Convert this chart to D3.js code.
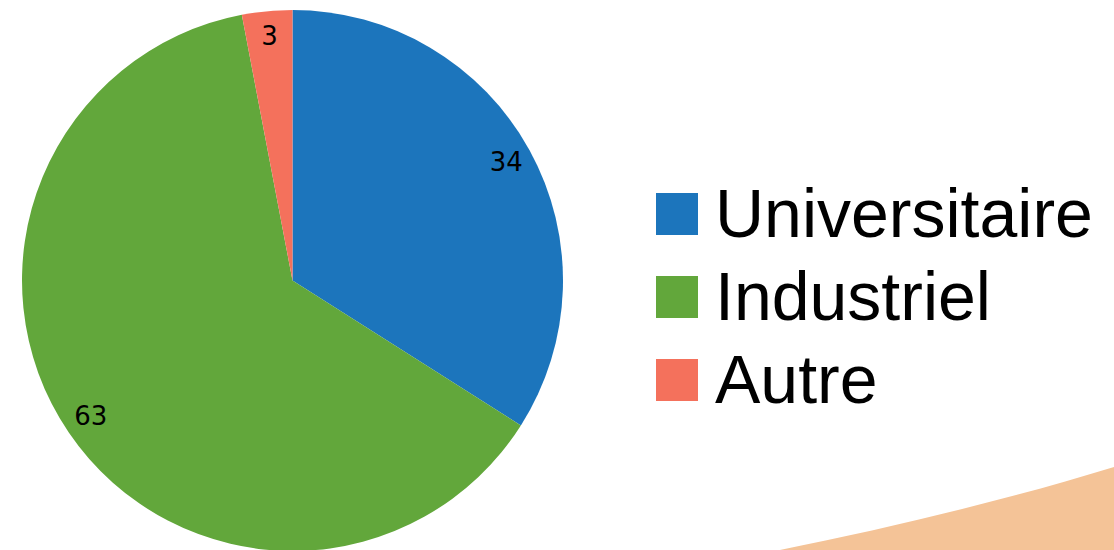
<!DOCTYPE html>
<html>
<head>
<meta charset="utf-8">
<script src="https://cdn.jsdelivr.net/npm/d3@7"></script>
<style>
  body { margin: 0; background: #fff; }
  svg { display: block; }
</style>
</head>
<body>
<svg id="chart" width="1114" height="550"></svg>
<script>
var categories = ['Universitaire', 'Industriel', 'Autre'];
var values = [34, 63, 3];
var colors = ['#1c75bc', '#62a73b', '#f4715c'];

var svg = d3.select('#chart');

// decorative orange band in the bottom right corner
svg.append('path')
    .attr('d', 'M770,552 C880,530 1000,502 1114,467 L1114,552 Z')
    .attr('fill', '#f4c397');

var cx = 292.5, cy = 280.5, radius = 270.5;

var pieData = d3.pie().sort(null)(values);
var arc = d3.arc().innerRadius(0).outerRadius(radius);
var labelArc = d3.arc().innerRadius(244).outerRadius(244);

var g = svg.append('g').attr('transform', 'translate(' + cx + ',' + cy + ')');

g.selectAll('path')
    .data(pieData)
    .enter()
    .append('path')
    .attr('d', arc)
    .attr('fill', function(d, i) { return colors[i]; });

g.selectAll('text')
    .data(pieData)
    .enter()
    .append('text')
    .attr('transform', function(d) { return 'translate(' + labelArc.centroid(d) + ')'; })
    .attr('text-anchor', 'middle')
    .attr('dy', '0.3em')
    .attr('font-family', 'DejaVu Sans, sans-serif')
    .attr('font-size', 26)
    .attr('fill', '#000')
    .text(function(d) { return d.data; });

// legend
var legend = svg.append('g').attr('transform', 'translate(656,193)');
var rows = legend.selectAll('g')
    .data(categories)
    .enter()
    .append('g')
    .attr('transform', function(d, i) { return 'translate(0,' + (i * 83) + ')'; });

rows.append('rect')
    .attr('width', 42)
    .attr('height', 42)
    .attr('fill', function(d, i) { return colors[i]; });

rows.append('text')
    .attr('x', 59)
    .attr('y', 44)
    .attr('font-family', 'Liberation Sans, Arial, sans-serif')
    .attr('font-size', 68)
    .attr('fill', '#000')
    .text(function(d) { return d; });
</script>
</body>
</html>
